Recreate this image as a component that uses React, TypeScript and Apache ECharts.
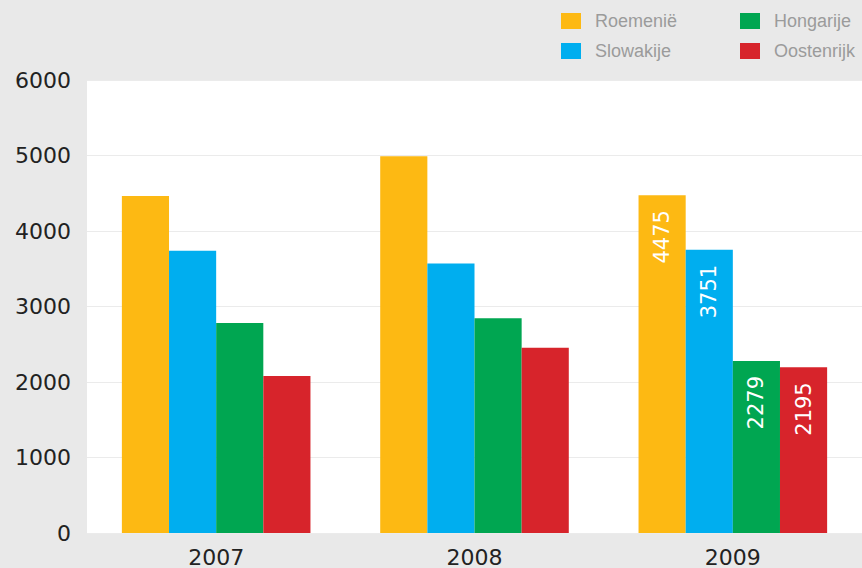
import React, { useEffect, useRef } from "react";
import * as echarts from "echarts";

const years = ["2007", "2008", "2009"];
const seriesNames = ["Roemenië", "Slowakije", "Hongarije", "Oostenrijk"];
const roemenie = [4465, 4990, 4475];
const slowakije = [3740, 3570, 3751];
const hongarije = [2780, 2845, 2279];
const oostenrijk = [2080, 2455, 2195];
const yTicks = [0, 1000, 2000, 3000, 4000, 5000, 6000];
const colors = ["#FDB913", "#00AEEF", "#00A651", "#D7242B"];
const showLabel = [false, false, true];

export default function App() {
  const ref = useRef<HTMLDivElement>(null);
  useEffect(() => {
    document.body.style.margin = "0";
    const chart = echarts.init(ref.current!, null, { renderer: "svg" });
    const values = [roemenie, slowakije, hongarije, oostenrijk];
    const font = "'Liberation Sans', Arial, Helvetica, sans-serif";
    const numFont = "'DejaVu Sans', sans-serif";
    const legendBase = {
      orient: "vertical",
      top: 12,
      padding: 0,
      itemWidth: 20,
      itemHeight: 16,
      itemGap: 12,
      icon: "rect",
      textStyle: { color: "#9b9b9b", fontSize: 18, fontFamily: font, padding: [0, 0, 0, 9] },
    };
    chart.setOption({
      animation: false,
      backgroundColor: "#e9e9e9",
      textStyle: { fontFamily: font },
      legend: [
        { ...legendBase, data: [seriesNames[0], seriesNames[1]], left: 561 },
        { ...legendBase, data: [seriesNames[2], seriesNames[3]], left: 740 },
      ],
      grid: {
        left: 87,
        right: 0,
        top: 80,
        bottom: 33,
        show: true,
        backgroundColor: "#ffffff",
        borderWidth: 0,
      },
      xAxis: {
        type: "category",
        data: years,
        axisLine: { show: false },
        axisTick: { show: false },
        axisLabel: { color: "#222", fontSize: 22, margin: 13, fontFamily: numFont },
      },
      yAxis: {
        type: "value",
        min: yTicks[0],
        max: yTicks[yTicks.length - 1],
        interval: 1000,
        axisLine: { show: false },
        axisTick: { show: false },
        splitLine: { lineStyle: { color: "#ebebeb", width: 1 } },
        axisLabel: {
          color: "#222",
          fontSize: 22,
          margin: 16,
          fontFamily: numFont,
          formatter: (v: number) => String(v),
        },
      },
      series: seriesNames.map((name, i) => ({
        name,
        type: "bar",
        barGap: "0%",
        barCategoryGap: "27%",
        itemStyle: { color: colors[i] },
        data: values[i].map((v, j) => ({
          value: v,
          label: {
            show: showLabel[j],
            position: "insideTop",
            rotate: 90,
            align: "right",
            verticalAlign: "middle",
            distance: 15,
            color: "#ffffff",
            fontSize: 21,
            fontFamily: numFont,
          },
        })),
      })),
    });
    return () => chart.dispose();
  }, []);
  return <div ref={ref} style={{ width: 862, height: 568 }} />;
}
